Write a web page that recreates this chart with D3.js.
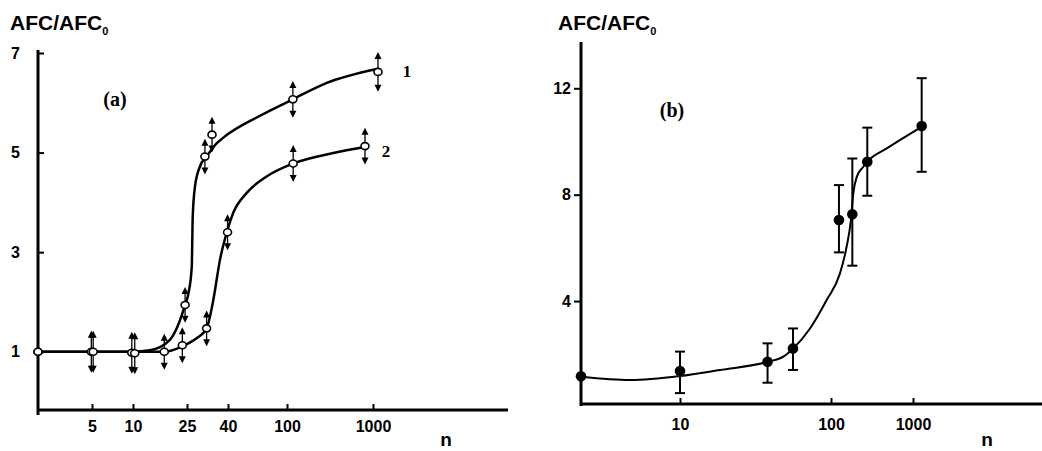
<!DOCTYPE html>
<html>
<head>
<meta charset="utf-8">
<script src="https://cdn.jsdelivr.net/npm/d3@7.9.0/dist/d3.min.js"></script>
<style>
  body { margin: 0; background: #fff; }
  .tick text { font-family: "Liberation Sans", Arial, sans-serif; font-weight: bold; }
</style>
</head>
<body>
<svg id="chart" width="1042" height="451"></svg>
<script>
// ---- panel (a) data ----
const aXTicks = [5, 10, 25, 40, 100, 1000];
const aYTicks = [1, 3, 5, 7];

// curve 1: measured points
const a1N   = [1, 4.9, 9.8, 24.2, 30.7, 33.3, 117, 1143];
const a1V   = [1.0, 1.0, 0.98, 1.94, 4.92, 5.36, 6.07, 6.62];
const a1Err = [0, 0.42, 0.42, 0.36, 0.36, 0.36, 0.37, 0.4];
// curve 1: fitted line
const a1FitN = [1, 10, 13.3, 18.7, 24.2, 25.5, 26.4, 26.7, 27.4, 29.0, 31.3, 35.2, 37.9, 65.8, 117, 290, 1104];
const a1FitV = [1.0, 1.0, 1.03, 1.24, 1.94, 2.2, 2.71, 3.72, 4.32, 4.72, 4.92, 5.19, 5.3, 5.74, 6.07, 6.4, 6.68];

// curve 2: measured points
const a2N   = [1, 5.1, 10.3, 17, 23.1, 31.3, 39.8, 118, 807];
const a2V   = [1.0, 1.0, 0.97, 1.0, 1.13, 1.47, 3.4, 4.78, 5.13];
const a2Err = [0, 0.42, 0.42, 0.36, 0.36, 0.36, 0.36, 0.37, 0.37];
// curve 2: fitted line
const a2FitN = [1, 10, 17, 23.1, 27.9, 31.3, 33.8, 36.5, 39.8, 43.4, 53.5, 72.9, 118, 345, 807];
const a2FitV = [1.0, 1.0, 1.0, 1.11, 1.27, 1.47, 2.04, 2.85, 3.45, 3.79, 4.19, 4.52, 4.78, 4.99, 5.11];

// ---- panel (b) data ----
const bXTicks = [10, 100, 1000];
const bYTicks = [4, 8, 12];
const bN  = [1, 10, 38, 56, 125, 182, 277, 1276];
const bV  = [1.17, 1.37, 1.72, 2.22, 7.05, 7.26, 9.24, 10.58];
const bLo = [null, 0.54, 0.93, 1.41, 5.83, 5.33, 7.96, 8.86];
const bHi = [null, 2.1, 2.41, 2.97, 8.36, 9.36, 10.52, 12.38];
const bFitN = [1, 3.15, 10, 18.4, 38.5, 48.3, 56.2, 72.6, 93.6, 128.7, 155, 175, 187, 206, 248, 277, 479, 1276];
const bFitV = [1.15, 1.03, 1.18, 1.41, 1.72, 1.91, 2.22, 2.97, 4.04, 5.04, 6.04, 7.04, 8.05, 8.67, 9.05, 9.24, 9.74, 10.55];

const svg = d3.select('#chart');
const sans = '"Liberation Sans", Arial, sans-serif';
const serif = '"Liberation Serif", "Times New Roman", serif';

// Both x axes are stretched unevenly in the original, so use a piecewise scale on log10(n)
const xA = d3.scaleLinear()
  .domain([1, 5, 10, 25, 40, 100, 1000].map(Math.log10))
  .range([38, 92, 133, 187, 228, 287, 373]);
const yA = d3.scaleLinear().domain([-0.17, 7]).range([410, 53]);

const xB = d3.scaleLinear()
  .domain([1, 10, 100, 1000].map(Math.log10))
  .range([581, 680, 831, 913]);
const yB = d3.scaleLinear().domain([0.13, 13.74]).range([404, 42]);

const lx = (scale) => (n) => scale(Math.log10(n));
const xa = lx(xA), xb = lx(xB);

function title(x, y) {
  const t = svg.append('text').attr('x', x).attr('y', y)
    .attr('font-family', sans).attr('font-weight', 'bold').attr('font-size', 21);
  t.append('tspan').text('AFC/AFC');
  t.append('tspan').attr('font-size', 11).attr('dy', 5).text('0');
}

// ---------- panel (a) ----------
const gA = svg.append('g');

gA.append('g').attr('transform', 'translate(0,410)')
  .call(d3.axisBottom(xA).tickValues(aXTicks.map(Math.log10))
    .tickFormat(d => Math.round(10 ** d)).tickSizeInner(-6).tickSizeOuter(0).tickPadding(11))
  .call(g => g.select('.domain').remove())
  .call(g => g.selectAll('.tick line').attr('stroke-width', 2))
  .call(g => g.selectAll('.tick text').attr('font-size', 16));

gA.append('g').attr('transform', 'translate(38,0)')
  .call(d3.axisLeft(yA).tickValues(aYTicks).tickSizeInner(-6).tickSizeOuter(0).tickPadding(18))
  .call(g => g.select('.domain').remove())
  .call(g => g.selectAll('.tick line').attr('stroke-width', 2))
  .call(g => g.selectAll('.tick text').attr('font-size', 16));

gA.append('line').attr('x1', 38).attr('x2', 508).attr('y1', 410).attr('y2', 410)
  .attr('stroke', '#000').attr('stroke-width', 3);
gA.append('line').attr('x1', 38).attr('x2', 38).attr('y1', 50).attr('y2', 415)
  .attr('stroke', '#000').attr('stroke-width', 3);

const lineA = d3.line().x(d => xa(d[0])).y(d => yA(d[1])).curve(d3.curveMonotoneX);
[[a1FitN, a1FitV], [a2FitN, a2FitV]].forEach(([ns, vs]) => {
  gA.append('path').datum(d3.zip(ns, vs)).attr('d', lineA)
    .attr('fill', 'none').attr('stroke', '#000').attr('stroke-width', 2.5);
});

function arrows(ns, vs, es) {
  const pts = d3.zip(ns, vs, es).filter(d => d[2] > 0);
  const g = gA.append('g');
  pts.forEach(([n, v, e]) => {
    const x = xa(n), top = yA(v + e), bot = yA(v - e);
    g.append('line').attr('x1', x).attr('x2', x).attr('y1', top + 4).attr('y2', bot - 4)
      .attr('stroke', '#000').attr('stroke-width', 1.3);
    g.append('path').attr('d', `M${x},${top}L${x - 3.5},${top + 7}L${x + 3.5},${top + 7}Z`).attr('fill', '#000');
    g.append('path').attr('d', `M${x},${bot}L${x - 3.5},${bot - 7}L${x + 3.5},${bot - 7}Z`).attr('fill', '#000');
  });
}
arrows(a1N, a1V, a1Err);
arrows(a2N, a2V, a2Err);

[[a1N, a1V], [a2N, a2V]].forEach(([ns, vs]) => {
  gA.append('g').selectAll('ellipse').data(d3.zip(ns, vs)).join('ellipse')
    .attr('cx', d => xa(d[0])).attr('cy', d => yA(d[1]))
    .attr('rx', 4).attr('ry', 3.5)
    .attr('fill', '#fff').attr('stroke', '#000').attr('stroke-width', 1.6);
});

title(10, 30);
gA.append('text').attr('x', 446).attr('y', 446).attr('text-anchor', 'middle')
  .attr('font-family', sans).attr('font-weight', 'bold').attr('font-size', 19).text('n');
gA.append('text').attr('x', 115).attr('y', 106).attr('text-anchor', 'middle')
  .attr('font-family', serif).attr('font-weight', 'bold').attr('font-size', 20).text('(a)');
gA.append('text').attr('x', 407).attr('y', 77).attr('text-anchor', 'middle')
  .attr('font-family', serif).attr('font-weight', 'bold').attr('font-size', 17).text('1');
gA.append('text').attr('x', 386).attr('y', 157).attr('text-anchor', 'middle')
  .attr('font-family', serif).attr('font-weight', 'bold').attr('font-size', 17).text('2');

// ---------- panel (b) ----------
const gB = svg.append('g');

gB.append('g').attr('transform', 'translate(0,404)')
  .call(d3.axisBottom(xB).tickValues(bXTicks.map(Math.log10))
    .tickFormat(d => Math.round(10 ** d)).tickSizeInner(-6).tickSizeOuter(0).tickPadding(15))
  .call(g => g.select('.domain').remove())
  .call(g => g.selectAll('.tick line').attr('stroke-width', 2))
  .call(g => g.selectAll('.tick text').attr('font-size', 16));

gB.append('g').attr('transform', 'translate(581,0)')
  .call(d3.axisLeft(yB).tickValues(bYTicks).tickSizeInner(7).tickSizeOuter(0).tickPadding(3))
  .call(g => g.select('.domain').remove())
  .call(g => g.selectAll('.tick line').attr('stroke-width', 2))
  .call(g => g.selectAll('.tick text').attr('font-size', 16));

gB.append('line').attr('x1', 581).attr('x2', 1042).attr('y1', 404).attr('y2', 404)
  .attr('stroke', '#000').attr('stroke-width', 3);
gB.append('line').attr('x1', 581).attr('x2', 581).attr('y1', 42).attr('y2', 406)
  .attr('stroke', '#000').attr('stroke-width', 3);

const lineB = d3.line().x(d => xb(d[0])).y(d => yB(d[1])).curve(d3.curveMonotoneX);
gB.append('path').datum(d3.zip(bFitN, bFitV)).attr('d', lineB)
  .attr('fill', 'none').attr('stroke', '#000').attr('stroke-width', 2);

const bPts = bN.map((n, i) => ({ n, v: bV[i], lo: bLo[i], hi: bHi[i] }));
const eb = gB.append('g').attr('stroke', '#000').attr('stroke-width', 2);
bPts.filter(d => d.lo != null).forEach(d => {
  const x = xb(d.n);
  eb.append('line').attr('x1', x).attr('x2', x).attr('y1', yB(d.hi)).attr('y2', yB(d.lo));
  eb.append('line').attr('x1', x - 5).attr('x2', x + 5).attr('y1', yB(d.hi)).attr('y2', yB(d.hi));
  eb.append('line').attr('x1', x - 5).attr('x2', x + 5).attr('y1', yB(d.lo)).attr('y2', yB(d.lo));
});
gB.append('g').selectAll('circle').data(bPts).join('circle')
  .attr('cx', d => xb(d.n)).attr('cy', d => yB(d.v)).attr('r', 5.3).attr('fill', '#000');

title(558, 30);
gB.append('text').attr('x', 987).attr('y', 446).attr('text-anchor', 'middle')
  .attr('font-family', sans).attr('font-weight', 'bold').attr('font-size', 19).text('n');
gB.append('text').attr('x', 672).attr('y', 117).attr('text-anchor', 'middle')
  .attr('font-family', serif).attr('font-weight', 'bold').attr('font-size', 20).text('(b)');
</script>
</body>
</html>
